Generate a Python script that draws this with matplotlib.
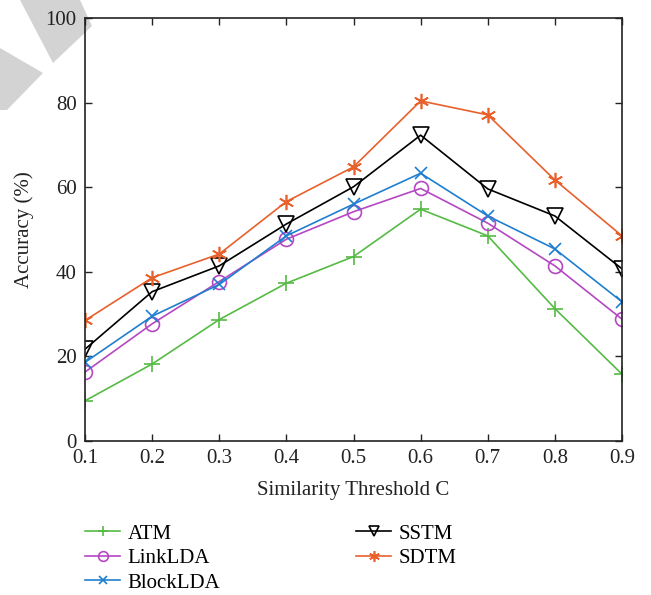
import matplotlib
matplotlib.use("Agg")
import matplotlib.pyplot as plt
from matplotlib.patches import Polygon

thresholds = [0.1, 0.2, 0.3, 0.4, 0.5, 0.6, 0.7, 0.8, 0.9]
atm = [9.5, 18.2, 28.7, 37.3, 43.6, 54.8, 48.5, 31.3, 15.8]
linklda = [16.3, 27.7, 37.7, 47.7, 54.2, 59.7, 51.5, 41.4, 28.8]
blocklda = [18.6, 29.5, 37.0, 48.5, 56.0, 63.3, 53.2, 45.4, 32.9]
sstm = [21.7, 35.3, 41.4, 51.3, 60.1, 72.3, 59.6, 53.2, 40.7]
sdtm = [28.5, 38.6, 44.2, 56.6, 64.8, 80.4, 77.1, 61.7, 48.5]

plt.rcParams['font.family'] = ['Liberation Serif', 'DejaVu Serif']

W, H = 651, 595
fig = plt.figure(figsize=(W / 100, H / 100), dpi=100)

# watermark shapes (figure pixel coords)
def px(pts):
    return [(x / W, 1 - y / H) for x, y in pts]
fig.patches.append(Polygon(px([(20, 0), (80, 0), (92, 26), (53, 63)]), closed=True,
                           transform=fig.transFigure, facecolor='#d3d3d3', edgecolor='none', zorder=-5))
fig.patches.append(Polygon(px([(0, 48), (43, 73), (7, 110), (0, 110)]), closed=True,
                           transform=fig.transFigure, facecolor='#d3d3d3', edgecolor='none', zorder=-5))

left, right, top, bottom = 85, 622, 18, 441
ax = fig.add_axes([left / W, 1 - bottom / H, (right - left) / W, (bottom - top) / H])
ax.set_zorder(2)
ax.patch.set_alpha(0)

lw = 1.2
ax.plot(thresholds, atm, color='#55bb44', marker='+', markersize=11, mew=1.2, lw=lw, label='ATM')
ax.plot(thresholds, linklda, color='#b547c3', marker='o', markersize=10, mfc='none', mew=1.2, lw=lw, label='LinkLDA')
ax.plot(thresholds, blocklda, color='#1f7fcf', marker='x', markersize=8, mew=1.2, lw=lw, label='BlockLDA')
ax.plot(thresholds, sstm, color='black', marker='v', markersize=11, mfc='none', mew=1.2, lw=lw, label='SSTM')
ax.plot(thresholds, sdtm, color='#e8602c', marker=(6, 2, 0), markersize=11, mew=1.2, lw=lw, label='SDTM')

ax.set_xlim(0.1, 0.9)
ax.set_ylim(0, 100)
ax.set_xticks(thresholds)
ax.set_xticklabels([f"{t:.1f}" for t in thresholds])
ax.set_yticks([0, 20, 40, 60, 80, 100])
ax.tick_params(direction='in', top=True, right=True, length=5, width=1, labelsize=15, colors='#222222')
ax.tick_params(axis='x', pad=6)
ax.tick_params(axis='y', pad=6)
for s in ax.spines.values():
    s.set_linewidth(1.2)
    s.set_color('#222222')
ax.set_xlabel('Similarity Threshold C', fontsize=15, color='#222222', labelpad=9)
ax.set_ylabel('Accuracy (%)', fontsize=15, color='#222222', labelpad=8)

handles, labels = ax.get_legend_handles_labels()
fig.legend(handles, labels, ncol=2, frameon=False, fontsize=15,
           loc='upper left', bbox_to_anchor=(85 / W, 1 - 524 / H),
           handlelength=1.7, columnspacing=6.5, labelspacing=0.24, handletextpad=0.35,
           borderaxespad=0, borderpad=0, markerscale=0.7)

fig.savefig('out.png', dpi=100)
